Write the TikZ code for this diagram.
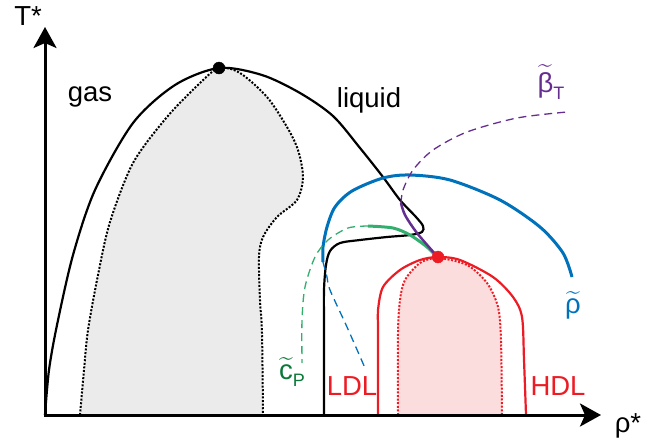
\documentclass[tikz,border=0pt]{standalone}
\usepackage{fontspec}
\setmainfont{Liberation Sans}
\usepackage{amsmath}
\usepackage{xcolor}
\definecolor{redline}{RGB}{237, 28, 36}
\definecolor{pinkfill}{RGB}{252, 221, 222}
\definecolor{gasfill}{RGB}{235, 235, 235}
\definecolor{blueline}{RGB}{0, 114, 188}
\definecolor{greenline}{RGB}{50, 175, 110}
\definecolor{greenlabel}{RGB}{10, 120, 55}
\definecolor{purpleline}{RGB}{102, 45, 145}
\usetikzlibrary{arrows.meta}
\newcommand\tildeover[1]{\ensuremath{\widetilde{\mbox{#1}}}}
\newcommand\subT[1]{\raisebox{-7pt}{\fontsize{18}{20}\selectfont #1}}

\begin{document}
\begin{tikzpicture}[x=1pt, y=-1pt,
    binodal/.style={line width=2.2pt},
    spinodal/.style={line width=2pt, dash pattern=on 2pt off 1.6pt},
    widom/.style={line width=1.3pt, dash pattern=on 8pt off 5pt},
    lbl/.style={inner sep=0pt, font=\fontsize{27.5}{32}\selectfont}]
    \useasboundingbox (0,0) rectangle (652,440);

    % Critical points
    \coordinate (CPgl) at (219, 68);
    \coordinate (CPll) at (438, 257);

    % Gas-liquid spinodal region
    \fill[gasfill] plot[smooth] coordinates {(80,415) (84,370) (88,330) (98,275) (110,222) (133,163) (167,117) (200,83) (219,68)
        (240,73) (267,97) (287,127) (298,150) (303,177) (297,200) (277,217) (263,237) (259,257) (260,300) (262,333) (263,415)} -- cycle;
    \draw[spinodal] plot[smooth] coordinates {(80,415) (84,370) (88,330) (98,275) (110,222) (133,163) (167,117) (200,83) (219,68)
        (240,73) (267,97) (287,127) (298,150) (303,177) (297,200) (277,217) (263,237) (259,257) (260,300) (262,333) (263,415)};

    % Liquid-liquid spinodal region
    \fill[pinkfill] plot[smooth] coordinates {(398,415) (398,333) (400,300) (405,280) (420,263) (438,258)
        (467,265) (487,283) (498,307) (501,340) (502,415)} -- cycle;
    \draw[spinodal, redline] plot[smooth] coordinates {(398,415) (398,333) (400,300) (405,280) (420,263) (438,258)
        (467,265) (487,283) (498,307) (501,340) (502,415)};

    % Gas-liquid binodal
    \draw[binodal] plot[smooth] coordinates {(45,415) (49,370) (57,325) (73,255) (95,190) (133,123) (175,85) (219,68)
        (262,75) (300,93) (333,116) (360,148) (383,177) (400,200) (416,217) (423,226) (422,232) (410,235) (387,237) (360,240)
        (340,243) (330,251) (326,265) (324,290) (324,330) (324,415)};

    % Liquid-liquid binodal
    \draw[binodal, redline] plot[smooth] coordinates {(378,415) (378,330) (378,310) (383,287) (400,270) (420,260) (438,257)
        (460,260) (493,277) (513,297) (522,317) (524,360) (526,415)};

    % Density response line
    \draw[line width=3pt, blueline] plot[smooth] coordinates {(323,262) (323,247) (327,227) (335,207) (352,191) (383,178) (410,175)
        (450,180) (500,200) (540,227) (563,253) (572,277)};
    \draw[widom, blueline] plot[smooth] coordinates {(323,262) (327,277) (330,290) (347,327) (365,368)};

    % Heat capacity line
    \draw[line width=3pt, greenline] plot[smooth] coordinates {(368,226) (393,228) (410,235) (427,247) (436,256)};
    \draw[widom, greenline] plot[smooth] coordinates {(368,226) (348,228) (328,240) (315,257) (305,287) (302,320) (302,363)};

    % Compressibility line
    \draw[line width=2.5pt, purpleline] plot[smooth] coordinates {(436,255) (417,233) (405,215) (401,203)};
    \draw[widom, purpleline] plot[smooth] coordinates {(401,203) (403,190) (413,170) (433,150) (467,132) (517,118) (567,112)};

    \filldraw (CPgl) circle (6pt);
    \filldraw[redline] (CPll) circle (6pt);

    % Axes
    \coordinate (O) at (45, 415);
    \coordinate (Ttip) at (45, 27);
    \coordinate (rhotip) at (601, 415);
    \draw[line width=3pt, -{Stealth[length=21pt, width=23pt, inset=5pt]}] (O) -- (Ttip);
    \draw[line width=3pt, -{Stealth[length=21pt, width=23pt, inset=5pt]}] ([xshift=-1.5pt]O) -- (rhotip);

    % Labels
    \node[lbl] (Tlab) at (28, 16) {T*};
    \node[lbl] (rholab) at (628, 426) {ρ*};
    \node[lbl] (gas) at (90, 97) {gas};
    \node[lbl] (liquid) at (369, 100) {liquid};
    \node[lbl, redline] (LDL) at (352, 386) {LDL};
    \node[lbl, redline] (HDL) at (558, 386) {HDL};
    \node[lbl, blueline] (rholbl) at (573, 305) {\tildeover{ρ}};
    \node[lbl, greenlabel] (cplbl) at (292, 372) {\tildeover{c}\subT{P}};
    \node[lbl, purpleline] (betalbl) at (551, 82) {\tildeover{β}\subT{T}};
\end{tikzpicture}
\end{document}
